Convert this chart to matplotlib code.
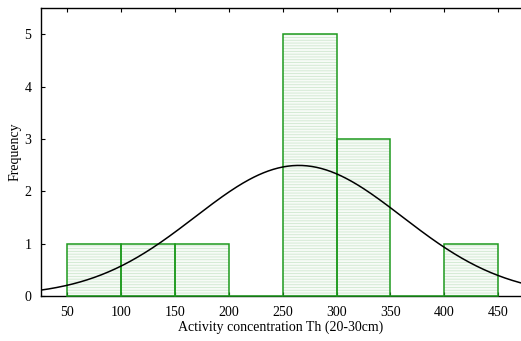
import numpy as np
import matplotlib.pyplot as plt

plt.rcParams['font.family'] = ['Liberation Serif', 'DejaVu Serif']
plt.rcParams['hatch.linewidth'] = 0.6

bin_left = [50, 100, 150, 200, 250, 300, 350, 400]
counts = [1, 1, 1, 0, 5, 3, 0, 1]
bin_width = 50
n_samples = 12
fit_mean = 265.0
fit_sd = 96.0

fig = plt.figure(figsize=(5.21, 3.41), dpi=100)
ax = fig.add_axes([0.0787, 0.132, 0.9213, 0.8445])

# pale dashed fill, then green outline on top of the axis line
ax.bar(bin_left, counts, width=bin_width, align='edge', facecolor='#f7fbf7',
       edgecolor='#cfe8cf', hatch='------', linewidth=0)
ax.bar(bin_left, counts, width=bin_width, align='edge', fill=False,
       edgecolor='#1e9a1e', linewidth=1.1, zorder=3, clip_on=False)

xs = np.linspace(25, 472, 400)
curve = n_samples * bin_width / (fit_sd * np.sqrt(2 * np.pi)) * np.exp(-0.5 * ((xs - fit_mean) / fit_sd) ** 2)
ax.plot(xs, curve, color='black', linewidth=1.1, zorder=4)

ax.set_xlim(26, 471)
ax.set_ylim(0, 5.5)
ax.set_xticks([50, 100, 150, 200, 250, 300, 350, 400, 450])
ax.set_yticks([0, 1, 2, 3, 4, 5])
ax.tick_params(direction='in', top=True, right=False, length=3, labelsize=10, pad=7)
ax.spines['right'].set_visible(False)
for s in ['left', 'bottom', 'top']:
    ax.spines[s].set_linewidth(1.0)
ax.set_xlabel('Activity concentration Th (20-30cm)', fontsize=10, labelpad=1)
ax.set_ylabel('Frequency', fontsize=10, labelpad=2)

fig.savefig('out.png', dpi=100)
